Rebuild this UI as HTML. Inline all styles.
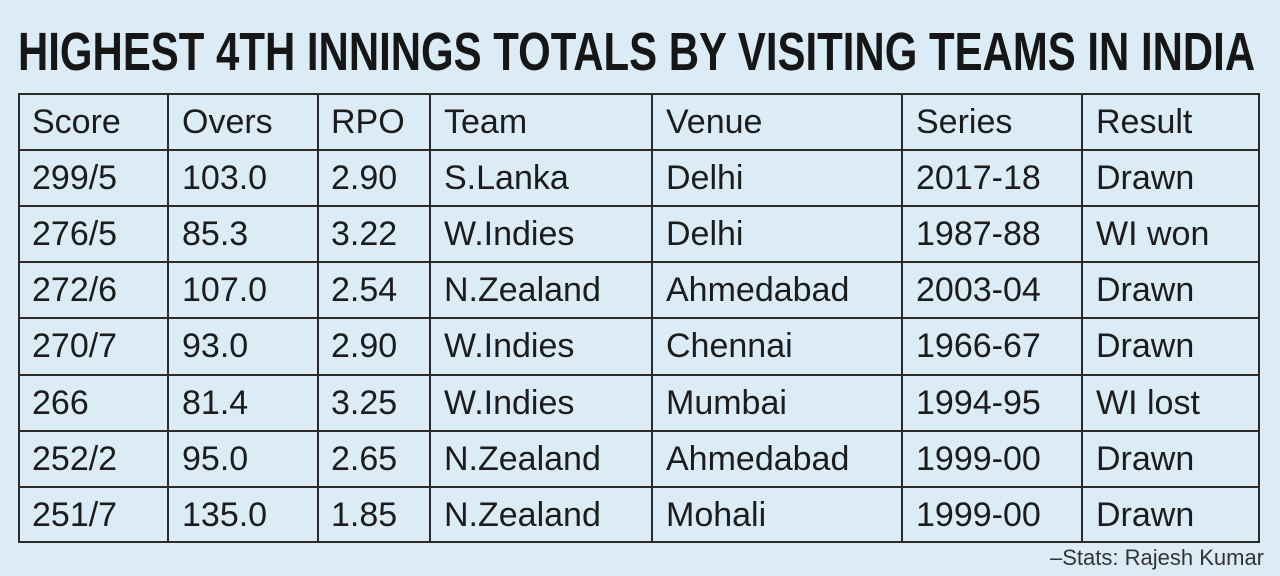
<!DOCTYPE html>
<html><head><style>
body{margin:0;width:1280px;height:576px;background:#dbecf7;overflow:hidden;position:relative;font-family:"Liberation Sans",sans-serif;color:#1c1c1c}
.t{position:absolute;left:18px;top:22px;font-family:"Liberation Sans Narrow","Liberation Sans",sans-serif;font-weight:bold;font-size:54px;line-height:60px;white-space:nowrap;transform-origin:0 0;color:#161616}
.c{position:absolute;font-size:34px;line-height:56px;white-space:nowrap}
.h{position:absolute;background:#2b2b2b;height:2px;left:18px;width:1242px}
.v{position:absolute;background:#2b2b2b;width:2px;top:93px;height:450px}
.s{position:absolute;right:16px;top:545px;font-size:22px;color:#333}
</style></head><body>
<div class="t" id="t">HIGHEST 4TH INNINGS TOTALS BY VISITING TEAMS IN INDIA</div>
<div class="h" style="top:93px"></div><div class="h" style="top:149px"></div><div class="h" style="top:205px"></div><div class="h" style="top:261px"></div><div class="h" style="top:317px"></div><div class="h" style="top:374px"></div><div class="h" style="top:430px"></div><div class="h" style="top:486px"></div><div class="h" style="top:541px"></div>
<div class="v" style="left:18px"></div><div class="v" style="left:167px"></div><div class="v" style="left:317px"></div><div class="v" style="left:429px"></div><div class="v" style="left:651px"></div><div class="v" style="left:901px"></div><div class="v" style="left:1081px"></div><div class="v" style="left:1258px"></div>
<div id="g"></div>
<div class="s">–Stats: Rajesh Kumar</div>
<script>
var d=[["Score","Overs","RPO","Team","Venue","Series","Result"],
["299/5","103.0","2.90","S.Lanka","Delhi","2017-18","Drawn"],
["276/5","85.3","3.22","W.Indies","Delhi","1987-88","WI won"],
["272/6","107.0","2.54","N.Zealand","Ahmedabad","2003-04","Drawn"],
["270/7","93.0","2.90","W.Indies","Chennai","1966-67","Drawn"],
["266","81.4","3.25","W.Indies","Mumbai","1994-95","WI lost"],
["252/2","95.0","2.65","N.Zealand","Ahmedabad","1999-00","Drawn"],
["251/7","135.0","1.85","N.Zealand","Mohali","1999-00","Drawn"]];
var xs=[32,182,331,444,666,916,1096],ys=[94,150,206,262,318,375,431,487],h="";
for(var r=0;r<8;r++)for(var c=0;c<7;c++)h+='<div class="c" style="left:'+xs[c]+'px;top:'+ys[r]+'px">'+d[r][c]+'</div>';
document.getElementById('g').innerHTML=h;
var t=document.getElementById('t');t.style.transform='scaleX('+(1237/t.offsetWidth)+')';
</script>
</body></html>
